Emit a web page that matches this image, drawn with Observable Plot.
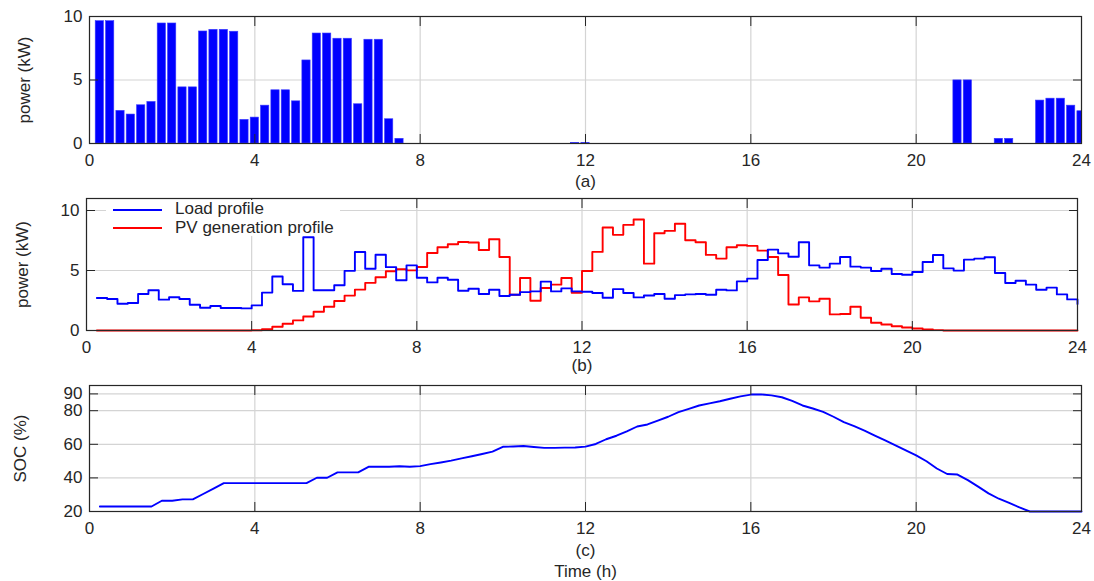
<!DOCTYPE html>
<html>
<head>
<meta charset="utf-8">
<script src="https://cdn.jsdelivr.net/npm/d3@7"></script>
<script src="https://cdn.jsdelivr.net/npm/@observablehq/plot@0.6"></script>
<style>
  body { margin: 0; background: #fff; }
  #wrap { position: relative; width: 1094px; height: 581px; overflow: hidden; font-family: "Liberation Sans", Arial, sans-serif; color: #262626; }
  #wrap svg { display: block; }
  .legend { position: absolute; left: 106px; top: 200px; height: 36px; background: #fff; padding: 0 6px 0 7px; font-size: 17px; }
  .legend .row { height: 18.5px; line-height: 18.5px; white-space: nowrap; }
  .legend .ln { display: inline-block; width: 49px; height: 0; border-top: 2px solid; vertical-align: middle; margin-right: 13px; }
</style>
</head>
<body>
<div id="wrap"></div>
<script>
// ---- data ----
const hours = Array.from({length: 96}, (_, i) => (i + 1) * 0.25); // 15-min slots 0.25..24 h
const xTicks = [0, 4, 8, 12, 16, 20, 24];
const powerTicks = [0, 5, 10];
const socTicks = [20, 40, 60, 80, 90];

// (a) battery power, kW
const batteryPower = [
  9.63, 9.63, 2.57, 2.28, 3.01, 3.27, 9.45, 9.45,
  4.42, 4.42, 8.82, 8.95, 8.95, 8.80, 1.86, 2.04,
  2.98, 4.19, 4.19, 3.32, 6.54, 8.66, 8.66, 8.25,
  8.25, 3.09, 8.17, 8.17, 1.91, 0.37, 0, 0,
  0, 0, 0, 0, 0, 0, 0, 0,
  0, 0, 0, 0, 0, 0, 0.05, 0.05,
  0, 0, 0, 0, 0, 0, 0, 0,
  0, 0, 0, 0, 0, 0, 0, 0,
  0, 0, 0, 0, 0, 0, 0, 0,
  0, 0, 0, 0, 0, 0, 0, 0,
  0, 0, 0, 4.97, 4.97, 0, 0, 0.37,
  0.37, 0, 0, 3.38, 3.53, 3.53, 2.98, 2.54
];

// (b) load profile, kW
const loadProfile = [
  2.71, 2.63, 2.23, 2.29, 3.04, 3.35, 2.57, 2.77,
  2.63, 2.15, 1.90, 2.04, 1.87, 1.87, 1.84, 2.09,
  3.16, 4.50, 3.85, 3.30, 7.77, 3.35, 3.35, 3.77,
  4.97, 6.54, 5.14, 6.31, 5.28, 4.19, 5.43, 4.40,
  4.01, 4.40, 4.23, 3.31, 3.48, 3.04, 3.40, 2.87,
  2.98, 3.20, 3.26, 4.07, 3.26, 3.51, 3.26, 3.23,
  3.12, 2.73, 3.45, 3.12, 2.76, 2.92, 3.04, 2.65,
  2.95, 3.01, 3.04, 2.98, 3.40, 3.34, 4.09, 4.32,
  5.88, 6.74, 6.43, 6.15, 7.35, 5.43, 5.24, 5.57,
  6.12, 5.32, 5.24, 4.96, 5.15, 4.71, 4.65, 4.87,
  5.71, 6.29, 5.18, 4.99, 5.91, 5.99, 6.10, 4.79,
  3.96, 4.15, 3.82, 3.40, 3.57, 3.01, 2.59, 2.20
];

// (b) PV generation profile, kW
const pvProfile = [
  0, 0, 0, 0, 0, 0, 0, 0,
  0, 0, 0, 0, 0, 0, 0, 0.02,
  0.11, 0.31, 0.56, 0.84, 1.17, 1.56, 1.98, 2.46,
  2.91, 3.41, 3.97, 4.44, 4.94, 5.11, 5.01, 5.29,
  6.46, 6.94, 7.19, 7.38, 7.33, 6.71, 7.60, 6.13,
  2.98, 4.37, 2.48, 3.54, 3.82, 4.37, 3.15, 4.96,
  6.55, 8.58, 7.97, 8.80, 9.25, 5.57, 8.11, 8.30,
  8.89, 7.52, 7.35, 6.30, 5.99, 6.94, 7.10, 7.05,
  6.66, 6.13, 4.62, 2.17, 2.76, 2.43, 2.65, 1.34,
  1.37, 1.98, 1.06, 0.64, 0.50, 0.36, 0.25, 0.17,
  0.08, 0.03, 0, 0, 0, 0, 0, 0,
  0, 0, 0, 0, 0, 0, 0, 0
];

// (c) state of charge, %
const soc = [
  23.0, 23.0, 23.0, 23.0, 23.0, 23.0, 26.4, 26.4,
  27.2, 27.2, 30.4, 33.6, 36.9, 36.9, 36.9, 36.9,
  36.9, 36.9, 36.9, 36.9, 36.9, 40.1, 40.1, 43.3,
  43.3, 43.3, 46.6, 46.6, 46.6, 46.9, 46.6, 47.0,
  48.2, 49.2, 50.3, 51.6, 52.9, 54.2, 55.6, 58.5,
  58.7, 59.0, 58.4, 57.9, 57.9, 58.0, 58.1, 58.6,
  60.2, 63.0, 65.1, 67.7, 70.6, 71.8, 74.1, 76.4,
  79.1, 81.1, 83.1, 84.4, 85.6, 87.1, 88.5, 89.6,
  89.7, 89.1, 88.0, 85.8, 83.1, 81.3, 79.3, 76.4,
  73.2, 70.8, 68.2, 65.2, 62.3, 59.4, 56.4, 53.4,
  49.9, 45.6, 42.3, 42.0, 38.7, 34.8, 30.8, 27.6,
  25.1, 22.4, 20.0, 20.0, 20.0, 20.0, 20.0, 20.0
];

const seriesNames = ["Load profile", "PV generation profile"];
const seriesColors = ["#0000ff", "#ff0000"];

// ---- drawing ----
const TEXT = "#262626";
const GRID = "#d4d4d4";
const FONT = "'Liberation Sans', Arial, sans-serif";
const FS = 17;
const asRows = vals => hours.map((t, i) => ({t, v: vals[i]}));

function decorations(yTicks, yLabel, yLabelDx, xLabel, xLabelDy) {
  return {
    under: [
      Plot.gridX(xTicks, {stroke: GRID, strokeOpacity: 1, strokeWidth: 1.2}),
      Plot.gridY(yTicks, {stroke: GRID, strokeOpacity: 1, strokeWidth: 1.2})
    ],
    over: [
      Plot.axisX(xTicks, {anchor: "bottom", tickSize: 0, tickPadding: 10, label: null, fontSize: FS}),
      Plot.axisX(xTicks, {anchor: "bottom", tickSize: -9, tickFormat: () => "", label: null, stroke: TEXT}),
      Plot.axisX(xTicks, {anchor: "top", tickSize: -9, tickFormat: () => "", label: null, stroke: TEXT}),
      Plot.axisY(yTicks, {anchor: "left", tickSize: 0, tickPadding: 7, label: null, fontSize: FS}),
      Plot.axisY(yTicks, {anchor: "left", tickSize: -9, tickFormat: () => "", label: null, stroke: TEXT}),
      Plot.axisY(yTicks, {anchor: "right", tickSize: -9, tickFormat: () => "", label: null, stroke: TEXT}),
      Plot.frame({stroke: TEXT, strokeWidth: 1.2}),
      Plot.text([yLabel], {text: d => d, frameAnchor: "left", textAnchor: "middle", rotate: -90, dx: yLabelDx, fontSize: FS, fill: TEXT}),
      Plot.text([xLabel], {text: d => d, frameAnchor: "bottom", textAnchor: "middle", dy: xLabelDy, fontSize: FS, fill: TEXT})
    ]
  };
}

function panel({height, marginTop, marginBottom, marginLeft, marginRight, yDomain, yTicks, yLabel, yLabelDx, xLabel, xLabelDy, marks, extra = []}) {
  const d = decorations(yTicks, yLabel, yLabelDx, xLabel, xLabelDy);
  return Plot.plot({
    width: 1094, height, marginTop, marginBottom, marginLeft, marginRight,
    style: {fontFamily: FONT, fontSize: FS + "px", color: TEXT, background: "#fff", overflow: "visible"},
    x: {domain: [0, 24]},
    y: {domain: yDomain},
    marks: [...d.under, ...marks, ...d.over, ...extra]
  });
}

const wrap = document.getElementById("wrap");

// (a)
wrap.append(panel({
  height: 190, marginTop: 16, marginBottom: 47, marginLeft: 89, marginRight: 13,
  yDomain: [0, 10], yTicks: powerTicks, yLabel: "power (kW)", yLabelDx: -65, xLabel: "(a)", xLabelDy: 43,
  marks: [
    Plot.rectY(asRows(batteryPower), {x1: d => d.t - 0.1, x2: d => d.t + 0.1, y: "v", fill: "#0000ff", stroke: "#3a3aff", strokeWidth: 0.6, clip: true})
  ]
}));

// (b)
wrap.append(panel({
  height: 186, marginTop: 8, marginBottom: 46, marginLeft: 86, marginRight: 17,
  yDomain: [0, 11], yTicks: powerTicks, yLabel: "power (kW)", yLabelDx: -64, xLabel: "(b)", xLabelDy: 40,
  marks: [
    Plot.lineY(asRows(pvProfile), {x: "t", y: "v", curve: "step-after", stroke: seriesColors[1], strokeWidth: 1.9}),
    Plot.lineY(asRows(loadProfile), {x: "t", y: "v", curve: "step-after", stroke: seriesColors[0], strokeWidth: 1.9})
  ]
}));

// (c)
wrap.append(panel({
  height: 205, marginTop: 9, marginBottom: 70, marginLeft: 89, marginRight: 13,
  yDomain: [20, 95], yTicks: socTicks, yLabel: "SOC (%)", yLabelDx: -69, xLabel: "(c)", xLabelDy: 44,
  marks: [
    Plot.lineY(asRows(soc), {x: "t", y: "v", stroke: "#0000ff", strokeWidth: 1.9})
  ],
  extra: [
    Plot.text(["Time (h)"], {text: d => d, frameAnchor: "bottom", textAnchor: "middle", dy: 65, fontSize: FS, fill: TEXT})
  ]
}));

// legend for (b)
const legend = document.createElement("div");
legend.className = "legend";
seriesNames.forEach((name, i) => {
  const row = document.createElement("div");
  row.className = "row";
  const ln = document.createElement("span");
  ln.className = "ln";
  ln.style.borderTopColor = seriesColors[i];
  row.append(ln, document.createTextNode(name));
  legend.append(row);
});
wrap.append(legend);
</script>
</body>
</html>
